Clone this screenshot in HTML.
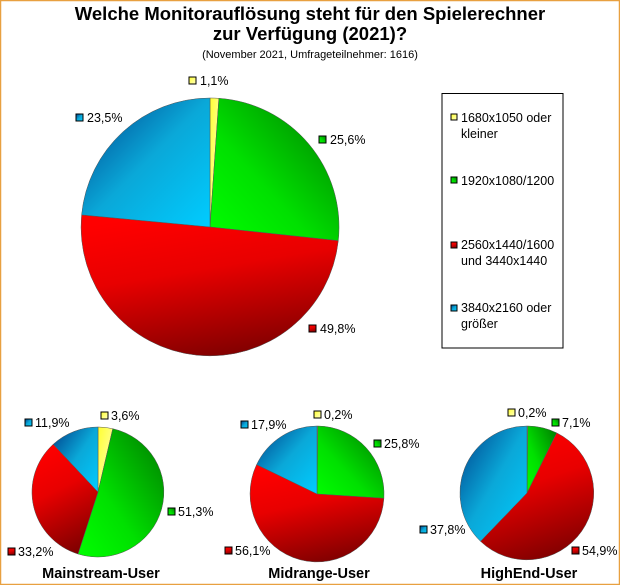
<!DOCTYPE html>
<html><head><meta charset="utf-8"><style>
html,body{margin:0;padding:0;background:#fff}
svg{display:block;font-family:"Liberation Sans",Arial,sans-serif}
</style></head><body>
<svg width="620" height="585" viewBox="0 0 620 585" xmlns="http://www.w3.org/2000/svg">
<defs>
<linearGradient id="gy" x1="0" y1="0" x2="1" y2="1"><stop offset="0" stop-color="#ffff30"/><stop offset="1" stop-color="#ffffc0"/></linearGradient>
<linearGradient id="gg" x1="0" y1="1" x2="1" y2="0"><stop offset="0" stop-color="#00ff00"/><stop offset="0.4" stop-color="#00e000"/><stop offset="1" stop-color="#007a00"/></linearGradient>
<linearGradient id="gr" x1="0.3" y1="0" x2="0.6" y2="1"><stop offset="0" stop-color="#ff0000"/><stop offset="0.4" stop-color="#e80000"/><stop offset="1" stop-color="#800000"/></linearGradient>
<linearGradient id="gb" x1="0" y1="0" x2="1" y2="1"><stop offset="0" stop-color="#003f8a"/><stop offset="0.5" stop-color="#0aa8d8"/><stop offset="1" stop-color="#00ccff"/></linearGradient>
</defs>
<rect x="0.5" y="0.5" width="619" height="584" fill="#fff" stroke="#e8a040" stroke-width="1.5"/>
<g text-anchor="middle" font-weight="bold" font-size="18.5">
<text x="310" y="20">Welche Monitorauflösung steht für den Spielerechner</text>
<text x="310" y="40">zur Verfügung (2021)?</text>
</g>
<text x="310" y="58" text-anchor="middle" font-size="11">(November 2021, Umfrageteilnehmer: 1616)</text>

<g stroke="#555" stroke-width="0.5">
<path d="M210,227 L210,98 A129,129 0 0 1 218.9,98.3 Z" fill="url(#gy)"/>
<path d="M210,227 L218.9,98.3 A129,129 0 0 1 338.3,240.7 Z" fill="url(#gg)"/>
<path d="M210,227 L338.3,240.7 A129,129 0 0 1 81.6,214.9 Z" fill="url(#gr)"/>
<path d="M210,227 L81.6,214.9 A129,129 0 0 1 210,98 Z" fill="url(#gb)"/>
</g>
<g stroke="#555" stroke-width="0.5">
<path d="M98,492 L98,427 A66,65 0 0 1 112.8,428.7 Z" fill="url(#gy)"/>
<path d="M98,492 L112.8,428.7 A66,65 0 1 1 78,554 Z" fill="url(#gg)"/>
<path d="M98,492 L78,554 A66,65 0 0 1 53.2,444.3 Z" fill="url(#gr)"/>
<path d="M98,492 L53.2,444.3 A66,65 0 0 1 98,427 Z" fill="url(#gb)"/>
</g>
<g stroke="#555" stroke-width="0.5">
<path d="M317,494 L317,426 A67,68 0 0 1 317.8,426 Z" fill="url(#gy)"/>
<path d="M317,494 L317.8,426 A67,68 0 0 1 383.9,498.3 Z" fill="url(#gg)"/>
<path d="M317,494 L383.9,498.3 A67,68 0 1 1 256.6,464.6 Z" fill="url(#gr)"/>
<path d="M317,494 L256.6,464.6 A67,68 0 0 1 317,426 Z" fill="url(#gb)"/>
</g>
<g stroke="#555" stroke-width="0.5">
<path d="M527,493 L527,426 A67,67 0 0 1 527.8,426 Z" fill="url(#gy)"/>
<path d="M527,493 L527.8,426 A67,67 0 0 1 556.7,432.9 Z" fill="url(#gg)"/>
<path d="M527,493 L556.7,432.9 A67,67 0 1 1 480.5,541.3 Z" fill="url(#gr)"/>
<path d="M527,493 L480.5,541.3 A67,67 0 0 1 527,426 Z" fill="url(#gb)"/>
</g>

<g font-size="12.5" stroke="none">
<g stroke="#000" stroke-width="1">
<rect x="189" y="77" width="7" height="7" fill="url(#gy)"/>
<rect x="319" y="136" width="7" height="7" fill="url(#gg)"/>
<rect x="309" y="325" width="7" height="7" fill="url(#gr)"/>
<rect x="76" y="114" width="7" height="7" fill="url(#gb)"/>
<rect x="25" y="419" width="7" height="7" fill="url(#gb)"/>
<rect x="101" y="412" width="7" height="7" fill="url(#gy)"/>
<rect x="168" y="508" width="7" height="7" fill="url(#gg)"/>
<rect x="8" y="548" width="7" height="7" fill="url(#gr)"/>
<rect x="314" y="411" width="7" height="7" fill="url(#gy)"/>
<rect x="241" y="421" width="7" height="7" fill="url(#gb)"/>
<rect x="374" y="440" width="7" height="7" fill="url(#gg)"/>
<rect x="225" y="547" width="7" height="7" fill="url(#gr)"/>
<rect x="508" y="409" width="7" height="7" fill="url(#gy)"/>
<rect x="552" y="419" width="7" height="7" fill="url(#gg)"/>
<rect x="420" y="526" width="7" height="7" fill="url(#gb)"/>
<rect x="572" y="547" width="7" height="7" fill="url(#gr)"/>
</g>
<text x="200" y="85">1,1%</text>
<text x="330" y="144">25,6%</text>
<text x="320" y="333">49,8%</text>
<text x="87" y="122">23,5%</text>
<text x="35" y="427">11,9%</text>
<text x="111" y="420">3,6%</text>
<text x="178" y="516">51,3%</text>
<text x="18" y="556">33,2%</text>
<text x="324" y="419">0,2%</text>
<text x="251" y="429">17,9%</text>
<text x="384" y="448">25,8%</text>
<text x="235" y="555">56,1%</text>
<text x="518" y="417">0,2%</text>
<text x="562" y="427">7,1%</text>
<text x="430" y="534">37,8%</text>
<text x="582" y="555">54,9%</text>
</g>
<g font-size="14.5" font-weight="bold" text-anchor="middle">
<text x="101" y="578">Mainstream-User</text>
<text x="319" y="578">Midrange-User</text>
<text x="529" y="578">HighEnd-User</text>
</g>

<rect x="442" y="93.5" width="121" height="254.5" fill="#fff" stroke="#000" stroke-width="1"/>
<g stroke="#000" stroke-width="1">
<rect x="451" y="114" width="6" height="6" fill="url(#gy)"/>
<rect x="451" y="177" width="6" height="6" fill="url(#gg)"/>
<rect x="451" y="242" width="6" height="6" fill="url(#gr)"/>
<rect x="451" y="305" width="6" height="6" fill="url(#gb)"/>
</g>
<g font-size="12.5">
<text x="461" y="122">1680x1050 oder</text>
<text x="461" y="138">kleiner</text>
<text x="461" y="185">1920x1080/1200</text>
<text x="461" y="249">2560x1440/1600</text>
<text x="461" y="265">und 3440x1440</text>
<text x="461" y="312">3840x2160 oder</text>
<text x="461" y="328">größer</text>
</g>
</svg>
</body></html>
